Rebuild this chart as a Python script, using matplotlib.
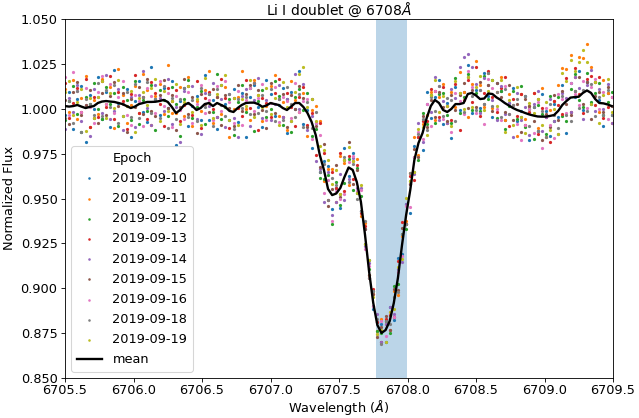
import numpy as np
import matplotlib
matplotlib.use("Agg")
import matplotlib.pyplot as plt

# wavelength grid of the spectra (common to all epochs)
wave_start = 6705.50
wave_step = 0.03
n_pix = 134

epochs = ["2019-09-10", "2019-09-11", "2019-09-12", "2019-09-13", "2019-09-14",
          "2019-09-15", "2019-09-16", "2019-09-18", "2019-09-19"]

# mean normalized flux
mean_flux = [
    1.0015, 1.0012, 1.0015, 1.0021, 1.0012, 1.0004, 1.0010, 1.0015, 1.0032, 1.0040,
    1.0043, 1.0040, 1.0038, 1.0032, 1.0026, 1.0015, 1.0004, 1.0012, 1.0026, 1.0032,
    1.0038, 1.0038, 1.0039, 1.0043, 1.0049, 1.0038, 1.0010, 0.9976, 0.9993, 1.0021,
    1.0032, 1.0015, 0.9993, 1.0004, 1.0026, 1.0032, 1.0015, 1.0032, 1.0021, 1.0010,
    0.9988, 0.9982, 1.0004, 1.0021, 1.0032, 1.0034, 1.0034, 1.0026, 1.0011, 1.0018,
    1.0032, 1.0026, 1.0021, 1.0004, 0.9993, 1.0012, 1.0032, 1.0032, 1.0010, 0.9976,
    0.9927, 0.9854, 0.9742, 0.9659, 0.9553, 0.9519, 0.9528, 0.9559, 0.9620, 0.9673,
    0.9659, 0.9592, 0.9481, 0.9297, 0.9091, 0.8918, 0.8795, 0.8751, 0.8767, 0.8817,
    0.8918, 0.9057, 0.9241, 0.9408, 0.9547, 0.9714, 0.9809, 0.9865, 0.9948, 1.0015,
    1.0049, 1.0032, 0.9993, 0.9982, 0.9999, 1.0026, 1.0026, 1.0032, 1.0082, 1.0088,
    1.0074, 1.0054, 1.0057, 1.0085, 1.0082, 1.0063, 1.0049, 1.0032, 1.0018, 1.0004,
    0.9993, 0.9985, 0.9976, 0.9968, 0.9962, 0.9957, 0.9956, 0.9956, 0.9960, 0.9965,
    0.9988, 1.0021, 1.0043, 1.0062, 1.0065, 1.0067, 1.0088, 1.0102, 1.0088, 1.0054,
    1.0032, 1.0030, 1.0024, 1.0015]

# per-epoch departures from the mean, in units of dev_unit
dev_unit = 0.0016
dev_0910 = [
    -3, 5, -8, 2, 7, -12, 4, -1, 9, -6,
    3, -9, 11, 0, -4, 6, -10, 2, 8, -3,
    -7, 12, 1, -5, 4, -2, 9, -11, 3, 6,
    -8, 0, 5, -4, 10, -6, 2, -9, 7, 1,
    -3, 8, -5, 4, -12, 2, 6, -1, -7, 9,
    3, -4, 0, 7, -8, 5, -2, 11, -6, 1,
    -9, 4, -6, 3, 8, -5, 2, -7, 10, -3,
    6, -4, -3, 2, 4, -2, 1, 3, -4, 5,
    -6, 7, -3, 4, -8, 5, 2, -6, 9, -4,
    1, 8, -5, 3, -10, 6, -2, 4, 10, -7,
    2, -3, 9, -1, -8, 5, 3, -6, 1, 7,
    -4, 0, 6, -9, 3, -5, 8, 2, -7, 4,
    -2, 7, -11, 5, 0, 9, -6, 3, -4, 6,
    1, -8, 4, -3]
dev_0911 = [
    6, -2, 9, -5, 3, 11, -7, 2, -4, 8,
    -1, 5, -9, 12, 3, -6, 1, 7, -3, 10,
    4, -8, 2, 6, -5, 13, -2, 0, 8, -4,
    9, -7, 3, -1, 5, 11, -6, 2, -3, 7,
    -9, 1, 4, 12, -2, -6, 8, 3, -5, 0,
    6, 10, -4, 2, -7, 9, 1, -3, 5, -8,
    4, 10, 12, -4, 7, 9, -3, 11, 5, -6,
    3, 8, -5, 4, -1, 3, -2, 5, 2, -3,
    4, -6, 3, -2, 6, 8, -4, 3, 1, 5,
    -7, 2, 9, -4, 6, -1, 11, 4, -8, 3,
    12, 5, -3, 7, -5, 2, 8, -6, 4, 1,
    -9, 6, -2, 3, 8, -4, 10, -7, 2, 5,
    9, 13, 11, 15, 7, 14, 12, 16, 9, 6,
    -3, 8, 4, -6]
dev_0912 = [
    -5, 2, 7, -3, -9, 4, 1, 8, -2, -6,
    5, -1, 3, -8, 6, 2, -4, 9, -7, 1,
    -3, 6, -10, 4, 0, -5, 7, 3, -9, 2,
    8, -4, 1, 6, -7, 3, -2, 10, -5, 0,
    4, -8, 2, 7, -3, 5, -10, 1, 6, -4,
    -2, 8, 3, -6, 4, -9, 2, 5, -1, 7,
    -5, 2, -8, -3, 5, -10, 4, -6, -2, 3,
    -7, 5, 2, -3, 1, 4, -2, 0, 3, -4,
    6, -2, 4, -5, 3, 1, -6, 7, -2, 4,
    -8, 3, 6, -1, -5, 9, -3, 2, 7, -6,
    1, -4, 8, -2, 5, -7, 3, -9, 0, 6,
    -3, 9, -5, 2, -8, 4, 1, -6, 7, -2,
    5, -4, -7, 3, 8, -1, -5, 6, -3, 2,
    7, -4, 1, 5]
dev_0913 = [
    8, -4, 1, 6, -2, 10, -7, 3, -5, 7,
    -2, 9, -6, 4, 1, -8, 5, 11, -3, 2,
    -6, 7, 3, -1, -9, 5, 2, 8, -4, 0,
    6, -3, 10, -7, 2, 4, -1, -5, 9, 3,
    -6, 5, 0, -4, 8, -2, 7, -9, 3, 1,
    -5, 4, 9, -3, 6, 0, -8, 2, 7, -4,
    3, -7, 11, 6, -4, 8, 2, 12, -5, 4,
    -3, 6, -4, 3, -2, 5, 1, -3, 4, 2,
    -5, 6, 8, -3, 5, -7, 2, 4, -1, 6,
    3, -5, 8, 2, -4, 7, -9, 1, 5, -3,
    10, -6, 2, 8, -1, -5, 4, 9, -7, 3,
    -2, 6, -4, 1, 8, -6, 3, 0, -9, 5,
    2, -3, 8, -5, 10, 1, -7, 4, 6, -2,
    9, -5, -1, 3]
dev_0914 = [
    -8, 3, -2, 7, -5, 1, -10, 6, 2, -4,
    9, -6, -3, 5, -9, 0, 4, -7, 3, 11,
    -2, -8, 6, 1, -4, 8, -6, 2, -11, 5,
    0, 7, -3, -9, 4, -1, 8, -5, 2, -7,
    6, -2, -10, 3, 5, -8, 1, 9, -4, 2,
    -6, 0, 7, -3, 4, -5, 10, -2, 8, -6,
    2, -9, -5, -11, 6, -7, -3, 5, -8, -4,
    4, -2, 5, -4, 3, -1, 4, -3, 2, 5,
    -4, 3, -6, 4, 2, -5, 7, -3, 5, -2,
    8, -6, 3, -4, 7, 2, 13, 16, 14, 9,
    4, -5, 7, 3, -2, -8, 5, -4, 1, -10,
    6, -3, 2, -7, 4, 9, -5, 0, 6, -2,
    -8, 4, 1, -5, 7, 3, -9, 2, 8, -4,
    5, -2, 7, -6]
dev_0915 = [
    2, -6, 5, 8, -3, 1, 6, -4, -7, 3,
    -5, 2, 7, -1, 4, -9, 3, 0, 6, -4,
    8, -3, -5, 2, 7, -2, 4, -6, 1, 9,
    -4, 3, -8, 5, 0, -3, 6, 2, -7, 4,
    1, -5, 8, -2, 3, 6, -4, 5, -1, -8,
    7, -3, 2, 5, -6, 4, -2, 6, 3, -5,
    8, 3, -4, 9, -6, 2, 10, -3, 6, 9,
    -5, 4, -3, 2, -1, 3, -4, 2, 5, -3,
    5, -4, 6, -3, 2, 4, -5, 6, -3, 2,
    -6, 4, 1, -3, 5, -2, 3, 7, -5, 1,
    -4, 6, -2, 3, -6, 5, 1, -3, 7, -4,
    2, -7, 5, 3, -2, 6, -8, 1, -4, 7,
    -3, 5, -1, -6, 2, 7, -4, 3, -9, 1,
    4, -3, 6, 0]
dev_0916 = [
    10, -3, 12, 5, -2, 7, 0, -6, 4, 9,
    -1, 6, -4, 2, 8, -3, -6, 4, 1, -8,
    5, 2, -4, 7, -2, 3, -7, 6, 0, -5,
    4, -6, 2, 8, -3, 1, -5, 6, -2, 9,
    3, -4, 6, -7, 1, 5, -3, 2, 8, -5,
    0, 6, -6, 4, 3, -4, 7, -3, 2, 5,
    -6, 4, 7, -8, 3, -9, 1, -4, -6, 2,
    5, -3, 4, -5, 2, -1, -3, 4, -2, 3,
    -5, 2, -4, 3, -6, 1, 4, -2, 5, -7,
    3, 6, -3, 2, -8, 4, 1, -4, 8, 2,
    -6, 3, -9, 5, 2, -4, -7, 6, -3, 1,
    -5, -10, -4, 2, -6, 5, -11, 3, -3, -8,
    6, 2, -4, 5, 1, -3, 4, -6, 2, 7,
    -2, 4, -5, 3]
dev_0918 = [
    -4, 2, -6, 5, -9, 3, 1, -3, 7, -5,
    4, -2, 6, -7, 0, 5, -3, 8, -5, 2,
    7, -4, 1, -6, 5, -9, 3, -2, 4, 6,
    -5, 2, -4, 7, -1, 3, -7, 5, 0, -3,
    6, -6, 3, -1, 2, -4, 7, -3, 4, -2,
    5, -6, 2, -4, 8, 1, -5, 3, -7, 4,
    -2, 8, -6, 2, -4, 6, 3, -2, 7, -5,
    2, -6, -3, 5, -2, 4, 2, -4, 3, -1,
    2, -5, 4, -3, 6, -4, 3, 5, -4, 3,
    -4, 6, -2, 5, 3, -6, 4, -3, 6, -1,
    -5, 3, -2, 7, -4, 2, -6, 5, -3, 1,
    4, -2, 6, -4, 3, -5, 2, -7, 4, 0,
    -6, 3, -5, -8, 2, -4, 1, -7, 3, -6,
    2, -4, 5, -3]
dev_0919 = [
    5, 9, -3, 1, 6, -8, 3, -4, 2, 7,
    -6, 3, -2, 8, -4, 0, 6, -9, 2, 4,
    -1, 5, 8, -7, 3, -3, 2, 10, -5, 1,
    6, -2, 4, -6, 9, 0, -4, 3, 7, 11,
    -3, 5, -6, 2, -1, 8, -5, 3, 0, 6,
    -4, 2, -7, 9, 1, -5, 4, 10, 14, 2,
    8, 5, 3, 7, 10, 4, 8, -2, 6, 7,
    3, -4, 6, -3, 4, 2, -3, 1, -4, 3,
    -2, 4, -5, 6, 3, -4, 5, 2, -6, 4,
    7, -3, 5, 2, -6, 8, 4, -2, 6, -5,
    3, 8, -4, 1, 5, -3, 7, -10, 2, -6,
    8, -2, -7, 4, 1, 6, -3, 5, -5, 2,
    -8, 11, 7, 13, 9, 12, 15, 10, -4, 6,
    -7, 3, 9, -2]

devs = [dev_0910, dev_0911, dev_0912, dev_0913, dev_0914,
        dev_0915, dev_0916, dev_0918, dev_0919]

li_window = (6707.77, 6708.00)

wave = wave_start + wave_step * np.arange(n_pix)
mean_flux = np.array(mean_flux)

plt.rcParams["font.size"] = 12
fig = plt.figure(figsize=(639 / 77, 418 / 77), dpi=77)
ax = fig.add_axes([65 / 639, 1 - 378 / 418, 548 / 639, 359 / 418])

ax.axvspan(li_window[0], li_window[1], color="tab:blue", alpha=0.3, lw=0)

colors = plt.rcParams["axes.prop_cycle"].by_key()["color"]
for i, (ep, dev) in enumerate(zip(epochs, devs)):
    k = min(len(dev), n_pix)
    flux = mean_flux[:k] + np.array(dev[:k]) * dev_unit
    ax.scatter(wave[:k], flux, s=9, color=colors[i % 10], lw=0, label=ep)

ax.plot(wave, mean_flux, color="k", lw=2.2, label="mean")

ax.set_xlim(6705.5, 6709.5)
ax.set_ylim(0.85, 1.05)
ax.set_xticks(np.arange(6705.5, 6709.51, 0.5))
ax.set_yticks(np.arange(0.85, 1.0501, 0.025))
ax.xaxis.set_major_formatter(matplotlib.ticker.FormatStrFormatter("%.1f"))
ax.yaxis.set_major_formatter(matplotlib.ticker.FormatStrFormatter("%.3f"))
ax.tick_params(axis="x", pad=2)

ax.set_title(r"Li I doublet @ 6708$\AA$", fontsize=13, pad=3)
ax.set_xlabel(r"Wavelength ($\AA$)", labelpad=1)
ax.set_ylabel("Normalized Flux")
ax.legend(title="Epoch", loc="lower left", fontsize=12, title_fontsize=12,
          scatterpoints=1, markerscale=0.8, labelspacing=0.56)

fig.savefig("out.png", dpi=77)
